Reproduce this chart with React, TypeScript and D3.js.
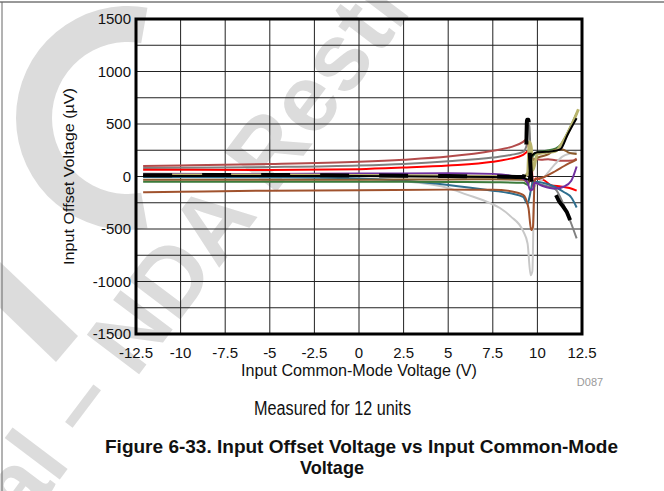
import React from "react";
import * as d3 from "d3";

const xTicks = [-12.5, -10, -7.5, -5, -2.5, 0, 2.5, 5, 7.5, 10, 12.5];
const yTicks = [1500, 1000, 500, 0, -500, -1000, -1500];
const yGrid = d3.range(-1500, 1501, 250);

const unitRosy: [number, number][] = [[-12.1, 100], [-10, 105], [-5, 118], [0, 140], [2.5, 160], [5, 190], [7.5, 245], [8.5, 280], [9.2, 330], [9.35, 350], [9.55, 260], [9.75, 170], [10.2, 160], [10.6, 165], [11, 155], [11.5, 150], [12, 152], [12.2, 170]];
const unitGray: [number, number][] = [[-12.1, 80], [-5, 90], [0, 105], [2.5, 120], [5, 145], [7.5, 180], [8.5, 205], [9.2, 235], [9.4, 300], [9.47, 510], [9.55, 480], [9.68, -60], [10, -70], [10.5, -90], [11, -120], [11.5, -280], [11.9, -450], [12.2, -590]];
const unitRed: [number, number][] = [[-12.1, 65], [-5, 62], [0, 70], [2.5, 85], [5, 105], [7.5, 140], [8.5, 170], [9.2, 205], [9.5, 240], [9.65, 230], [9.75, -100], [9.9, -20], [10.3, -30], [10.8, -85], [11.3, -95], [11.8, -110], [12.2, -135]];
const unitLightGray: [number, number][] = [[-12.1, 30], [-7.5, 25], [-5, 18], [-2.5, 5], [0, -20], [2.5, -45], [5, -110], [6, -170], [7.3, -250], [7.9, -300], [8.5, -380], [9.2, -520], [9.45, -640], [9.62, -940], [9.72, -900], [9.82, -100], [10.3, -20], [11, 120], [11.4, 190], [12.2, 230]];
const unitTeal: [number, number][] = [[-12.1, -5], [-5, -8], [0, -20], [2.5, -40], [5, -80], [7.5, -135], [8.5, -160], [9.2, -195], [9.45, -260], [9.55, -200], [9.75, -50], [10.3, -60], [11, -100], [11.5, -150], [11.9, -200], [12.2, -295]];
const unitGreen: [number, number][] = [[-12.1, -50], [-5, -50], [0, -50], [5, -52], [7.5, -55], [9.2, -60], [9.5, -80], [9.7, 180], [10, 230], [10.5, 245], [11, 265], [11.3, 300], [11.7, 420], [12.2, 600]];
const unitBrownLow: [number, number][] = [[-12.1, -150], [-10, -145], [-5, -135], [0, -130], [5, -125], [7.5, -125], [8.5, -140], [9.2, -175], [9.5, -300], [9.65, -510], [9.75, -480], [9.85, -30], [10.3, -10], [11, 50], [11.5, 100], [12.2, 160]];
const unitBrownUp: [number, number][] = [[-12.1, -30], [-5, -30], [0, -30], [5, -28], [7.5, -27], [9.2, -30], [9.5, -60], [9.7, 150], [10.2, 190], [10.6, 210], [11, 255], [11.4, 258], [11.8, 225], [12.2, 215]];
const unitPurple: [number, number][] = [[-12.1, 22], [-5, 25], [0, 28], [5, 30], [7.5, 25], [9.2, -20], [9.45, -60], [9.6, -130], [9.75, -120], [9.85, -60], [10.3, -90], [11, -115], [11.5, -95], [11.9, -40], [12.2, 95]];
const unitKhaki: [number, number][] = [[-12.1, 12], [-5, 15], [0, 10], [5, 5], [7.5, 0], [9.2, -5], [9.45, 30], [9.55, 330], [9.65, 280], [9.75, 60], [10, 215], [10.5, 230], [11, 240], [11.5, 350], [12, 520], [12.3, 640]];
const unitBlack: [number, number][] = [[-12.1, 5], [0, 5], [7.5, -5], [9.2, -15], [9.5, -30], [9.7, 200], [10, 230], [10.5, 235], [11, 245], [11.3, 260], [11.7, 400], [12.2, 555]];
const unitBlackDash: [number, number][] = [[-12.1, 12], [-5, 15], [0, 10], [5, 5], [7.5, 0], [9.2, -5], [9.35, 100], [9.42, 540], [9.5, 540], [9.58, 200], [9.7, -60], [10.2, -75], [10.8, -110], [11.2, -230], [11.8, -400], [12.2, -680]];

const seriesData = [unitGray, unitRosy, unitRed, unitLightGray, unitTeal, unitGreen, unitBrownLow, unitBrownUp, unitPurple, unitKhaki, unitBlack, unitBlackDash];
const seriesColors = ["#808080", "#b34b4b", "#ff0000", "#c8c8c8", "#2e6e8e", "#3b7a3b", "#a0522d", "#8b5a2b", "#7030a0", "#b9b46c", "#000000", "#000000"];

export default function App() {
  const W = 664, H = 491;
  const x0 = 136, x1 = 582, y0 = 19, y1 = 334;
  const x = d3.scaleLinear().domain([-12.5, 12.5]).range([x0, x1]);
  const y = d3.scaleLinear().domain([-1500, 1500]).range([y1, y0]);
  const line = d3.line<[number, number]>().x(d => x(d[0])).y(d => y(d[1])).curve(d3.curveMonotoneX);
  const font = "'Liberation Sans', Arial, sans-serif";
  const wm = "#dcdcdc";
  const arc = d3.arc()({ innerRadius: 76, outerRadius: 112, startAngle: (170 * Math.PI) / 180, endAngle: (370 * Math.PI) / 180 } as any);

  return (
    <svg width={W} height={H} style={{ position: "absolute", left: 0, top: 0, background: "#fff" }} fontFamily={font}>
      {/* watermark */}
      <g>
        <path d={arc || ""} transform="translate(128,118)" fill={wm} />
        <path d="M0,262 L78,336 L56,362 L0,308 Z" fill={wm} />
        <text x={8} y={548} transform="rotate(-53,8,548)" fontSize={95} fontWeight="bold" fill={wm}>
          ial – NDA Restri
        </text>
      </g>
      <line x1={0} x2={W} y1={2} y2={2} stroke="#333" strokeWidth={1} />
      <line x1={2} x2={2} y1={2} y2={H} stroke="#666" strokeWidth={1} />

      {/* grid */}
      {xTicks.map(t => (
        <line key={"gx" + t} x1={x(t)} x2={x(t)} y1={y0} y2={y1} stroke="#222" strokeWidth={1} />
      ))}
      {yGrid.map(t => (
        <line key={"gy" + t} x1={x0} x2={x1} y1={y(t)} y2={y(t)} stroke="#222" strokeWidth={1} />
      ))}

      {/* series */}
      {seriesData.map((s, i) => (
        <path
          key={"s" + i}
          d={line(s) || ""}
          fill="none"
          stroke={seriesColors[i]}
          strokeWidth={i === seriesData.length - 1 ? 4 : i === 9 ? 3 : 2}
          strokeDasharray={i === seriesData.length - 1 ? "29,30" : undefined}
          strokeLinejoin="round"
        />
      ))}

      <rect x={x0} y={y0} width={x1 - x0} height={y1 - y0} fill="none" stroke="#000" strokeWidth={3} />

      {/* tick labels */}
      {yTicks.map(t => (
        <text key={"yl" + t} x={131} y={y(t)} dy="0.35em" textAnchor="end" fontSize={15} fill="#111">
          {t}
        </text>
      ))}
      {xTicks.map(t => (
        <text key={"xl" + t} x={x(t)} y={358} textAnchor="middle" fontSize={15} fill="#111">
          {t}
        </text>
      ))}
      <text x={241} y={376} fontSize={16} textLength={236} lengthAdjust="spacingAndGlyphs" fill="#111">
        Input Common-Mode Voltage (V)
      </text>
      <text transform="translate(74,265) rotate(-90)" fontSize={15} textLength={177} lengthAdjust="spacingAndGlyphs" fill="#111">
        Input Offset Voltage (µV)
      </text>
      <text x={590} y={386} textAnchor="middle" fontSize={11} fill="#9a9a9a">
        D087
      </text>
      <text x={254} y={415} fontSize={20} textLength={157} lengthAdjust="spacingAndGlyphs" fill="#111">
        Measured for 12 units
      </text>
      <text x={105} y={453} fontSize={19} fontWeight="bold" textLength={513} lengthAdjust="spacingAndGlyphs" fill="#111">
        Figure 6-33. Input Offset Voltage vs Input Common-Mode
      </text>
      <text x={300} y={474} fontSize={19} fontWeight="bold" textLength={64} lengthAdjust="spacingAndGlyphs" fill="#111">
        Voltage
      </text>
    </svg>
  );
}
